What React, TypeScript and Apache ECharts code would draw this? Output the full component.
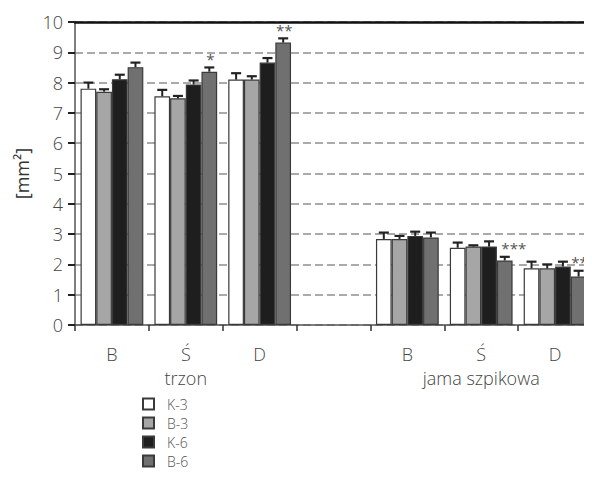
import React, { useEffect, useRef } from "react";
import * as echarts from "echarts";

const categories = ["B", "Ś", "D", "", "B", "Ś", "D"];
const groupLabels = ["", "trzon", "", "", "", "jama szpikowa", ""];
const seriesNames = ["K-3", "B-3", "K-6", "B-6"];
const colors = ["#ffffff", "#a6a6a6", "#1e1e1e", "#707070"];

const k3 = [7.8, 7.55, 8.1, null, 2.84, 2.55, 1.87];
const b3 = [7.7, 7.48, 8.1, null, 2.84, 2.59, 1.87];
const k6 = [8.11, 7.94, 8.66, null, 2.94, 2.59, 1.93];
const b6 = [8.51, 8.36, 9.32, null, 2.89, 2.13, 1.6];

const k3Err = [0.2, 0.21, 0.21, null, 0.21, 0.17, 0.22];
const b3Err = [0.08, 0.08, 0.11, null, 0.1, 0.04, 0.13];
const k6Err = [0.15, 0.13, 0.15, null, 0.14, 0.17, 0.16];
const b6Err = [0.15, 0.14, 0.14, null, 0.16, 0.12, 0.19];

const b6Stars = ["", "*", "**", "", "", "***", "**"];

const yTicks = [0, 1, 2, 3, 4, 5, 6, 7, 8, 9, 10];

const values = [k3, b3, k6, b6];
const errs = [k3Err, b3Err, k6Err, b6Err];
const stars = [null, null, null, b6Stars];

const CAT_GAP = 0.15;
const FONT = "'Open Sans', 'DejaVu Sans', sans-serif";

export default function App() {
  const ref = useRef<HTMLDivElement>(null);
  useEffect(() => {
    if (!ref.current) return;
    const chart = echarts.init(ref.current, null, { renderer: "svg" });

    const errData: any[] = [];
    values.forEach((vals, s) => {
      vals.forEach((v, i) => {
        if (v == null) return;
        errData.push([i, s, v, errs[s][i], stars[s] ? stars[s]![i] : ""]);
      });
    });

    const option: any = {
      animation: false,
      backgroundColor: "#ffffff",
      textStyle: { fontFamily: FONT, fontWeight: 300 },
      grid: { left: 75, top: 22, right: -2, bottom: 162, containLabel: false },
      legend: {
        orient: "vertical",
        left: 142,
        top: 397,
        padding: 0,
        itemWidth: 11,
        itemHeight: 11,
        itemGap: 5,
        icon: "rect",
        data: seriesNames,
        textStyle: {
          fontSize: 14,
          lineHeight: 14,
          color: "#555",
          fontFamily: FONT,
          fontWeight: 300,
          padding: [0, 0, 0, 8],
        },
      },
      xAxis: [
        {
          type: "category",
          data: categories,
          axisLine: { lineStyle: { color: "#555", width: 1.5 } },
          axisTick: { show: true, length: 6, lineStyle: { color: "#333", width: 1.5 } },
          axisLabel: {
            interval: 0,
            margin: 17,
            fontSize: 18,
            fontWeight: 300,
            color: "#444",
            lineHeight: 24,
            formatter: (val: string, idx: number) =>
              groupLabels[idx] ? val + "\n" + groupLabels[idx] : val,
          },
        },
        {
          type: "category",
          position: "top",
          data: categories,
          axisLine: { show: true, lineStyle: { color: "#111", width: 2.5 } },
          axisTick: { show: false },
          axisLabel: { show: false },
        },
      ],
      yAxis: {
        type: "value",
        min: yTicks[0],
        max: yTicks[yTicks.length - 1],
        interval: 1,
        name: "[mm²]",
        nameLocation: "middle",
        nameGap: 44,
        nameTextStyle: { fontSize: 18, color: "#333", fontFamily: FONT, fontWeight: 400 },
        axisLine: { show: true, lineStyle: { color: "#555", width: 1.5 } },
        axisTick: { show: true, length: 7, lineStyle: { color: "#222", width: 2 } },
        axisLabel: { fontSize: 18, fontWeight: 300, color: "#444", margin: 12 },
        splitLine: {
          show: true,
          lineStyle: { color: "#aaaaaa", type: [8, 4], width: 2 },
        },
      },
      series: [
        ...values.map((vals, s) => ({
          name: seriesNames[s],
          type: "bar",
          data: vals.map((v) => (v == null ? "-" : v)),
          barGap: "0%",
          barCategoryGap: CAT_GAP * 100 + "%",
          itemStyle: { color: colors[s], borderColor: "#3a3a3a", borderWidth: 1.2 },
          z: 2,
        })),
        {
          type: "custom",
          z: 3,
          silent: true,
          encode: { x: 0, y: 2 },
          data: errData,
          renderItem: (params: any, api: any) => {
            const cat = api.value(0);
            const s = api.value(1);
            const v = api.value(2);
            const e = api.value(3);
            const star = errData[params.dataIndex][4];
            const band = api.size([1, 0])[0];
            const bw = (band * (1 - CAT_GAP)) / 4;
            const cx = api.coord([cat, 0])[0] + (s - 1.5) * bw;
            const yv = api.coord([cat, v])[1];
            const yt = api.coord([cat, v + e])[1];
            const children: any[] = [
              {
                type: "line",
                shape: { x1: cx, y1: yv, x2: cx, y2: yt },
                style: { stroke: "#222", lineWidth: 2 },
              },
              {
                type: "line",
                shape: { x1: cx - 5, y1: yt, x2: cx + 5, y2: yt },
                style: { stroke: "#222", lineWidth: 2.2 },
              },
            ];
            if (star) {
              children.push({
                type: "text",
                x: cx + (star.length > 2 ? 9 : 1),
                y: yt - 1,
                style: {
                  text: star,
                  fill: "#555",
                  fontSize: 15,
                  fontFamily: FONT,
                  align: "center",
                  verticalAlign: "bottom",
                },
              });
            }
            return { type: "group", children };
          },
        },
      ],
    };
    chart.setOption(option);
    return () => chart.dispose();
  }, []);
  return <div ref={ref} style={{ width: 592, height: 487, margin: -8 }} />;
}
